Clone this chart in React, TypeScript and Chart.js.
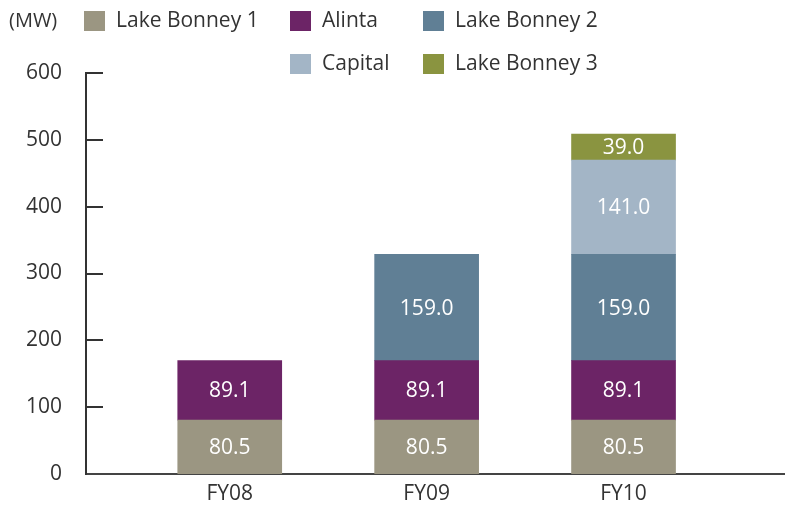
import React, { useEffect, useRef } from 'react';
import { Chart, registerables } from 'chart.js';

Chart.register(...registerables);

const categories = ['FY08', 'FY09', 'FY10'];
const seriesNames = ['Lake Bonney 1', 'Alinta', 'Lake Bonney 2', 'Capital', 'Lake Bonney 3'];
const lakeBonney1 = [80.5, 80.5, 80.5];
const alinta = [89.1, 89.1, 89.1];
const lakeBonney2 = [null, 159.0, 159.0];
const capital = [null, null, 141.0];
const lakeBonney3 = [null, null, 39.0];
const yTickValues = [0, 100, 200, 300, 400, 500, 600];
const unitLabel = '(MW)';

const seriesValues = [lakeBonney1, alinta, lakeBonney2, capital, lakeBonney3];
const seriesColors = ['#9b9682', '#6c2466', '#607f95', '#a3b5c6', '#8a9440'];

const FONT = '"Open Sans", sans-serif';
const TEXT = '#333333';

// legend layout: [boxX, rowCenterY]
const legendSlots = [
  [84, 21],
  [290, 21],
  [423, 21],
  [290, 64],
  [423, 64],
];

const legendPlugin = {
  id: 'customLegend',
  afterDraw(chart: any) {
    const ctx = chart.ctx;
    ctx.save();
    ctx.font = `20px ${FONT}`;
    ctx.fillStyle = TEXT;
    ctx.textBaseline = 'middle';
    ctx.textAlign = 'left';
    ctx.fillText(unitLabel, 9, 21);
    chart.data.datasets.forEach((ds: any, i: number) => {
      const [bx, cy] = legendSlots[i];
      ctx.fillStyle = ds.backgroundColor;
      ctx.fillRect(bx, cy - 10, 21, 20);
      ctx.fillStyle = TEXT;
      ctx.font = `21px ${FONT}`;
      ctx.fillText(ds.label, bx + 32, cy);
    });
    ctx.restore();
  },
};

const valueLabelPlugin = {
  id: 'valueLabels',
  afterDatasetsDraw(chart: any) {
    const ctx = chart.ctx;
    ctx.save();
    ctx.fillStyle = '#ffffff';
    ctx.font = `21px ${FONT}`;
    ctx.textAlign = 'center';
    ctx.textBaseline = 'middle';
    chart.data.datasets.forEach((ds: any, di: number) => {
      const meta = chart.getDatasetMeta(di);
      meta.data.forEach((bar: any, i: number) => {
        const pt = ds.data[i];
        if (!pt || pt.y == null) return;
        const { x, y, base } = bar.getProps(['x', 'y', 'base'], true);
        ctx.fillText(pt.y.toFixed(1), x, (y + base) / 2 + 1);
      });
    });
    ctx.restore();
  },
};

const innerTicksPlugin = {
  id: 'innerTicks',
  afterDraw(chart: any) {
    const ctx = chart.ctx;
    const ys = chart.scales.y;
    const left = chart.chartArea.left;
    ctx.save();
    ctx.strokeStyle = TEXT;
    ctx.lineWidth = 2;
    ys.ticks.forEach((t: any) => {
      if (t.value === 0) return;
      const py = Math.round(ys.getPixelForValue(t.value));
      ctx.beginPath();
      ctx.moveTo(left, py);
      ctx.lineTo(left + 17, py);
      ctx.stroke();
    });
    ctx.restore();
  },
};

export default function App() {
  const canvasRef = useRef<HTMLCanvasElement | null>(null);

  useEffect(() => {
    if (!canvasRef.current) return;
    const datasets = seriesNames.map((name, si) => ({
      label: name,
      data: seriesValues[si]
        .map((v, i) => (v == null ? null : { x: i, y: v }))
        .filter((p) => p !== null),
      backgroundColor: seriesColors[si],
      borderWidth: 0,
      barThickness: 104,
    }));

    const chart = new Chart(canvasRef.current, {
      type: 'bar',
      data: { datasets },
      plugins: [legendPlugin, valueLabelPlugin, innerTicksPlugin],
      options: {
        animation: false,
        responsive: true,
        maintainAspectRatio: false,
        layout: { padding: { top: 73, left: 0, right: 0, bottom: 0 } },
        plugins: {
          legend: { display: false },
          tooltip: { enabled: false },
        },
        scales: {
          x: {
            type: 'linear',
            stacked: true,
            offset: false,
            min: -0.73,
            max: 2.82,
            afterBuildTicks: (scale: any) => {
              scale.ticks = categories.map((_, i) => ({ value: i }));
            },
            afterFit: (scale: any) => {
              scale.height = 32;
            },
            grid: { display: false, drawTicks: false },
            border: { display: true, color: '#444444', width: 2 },
            ticks: {
              padding: 7,
              color: TEXT,
              font: { family: FONT, size: 21 },
              callback: (v: any) => categories[v] ?? '',
            },
          },
          y: {
            stacked: true,
            min: 0,
            max: 600,
            afterBuildTicks: (scale: any) => {
              scale.ticks = yTickValues.map((v) => ({ value: v }));
            },
            afterFit: (scale: any) => {
              scale.width = 86;
            },
            grid: { display: false, drawTicks: true, tickLength: 16 },
            border: { display: true, color: TEXT, width: 2 },
            ticks: {
              padding: 8,
              color: TEXT,
              font: { family: FONT, size: 21 },
            },
          },
        },
      },
    });
    return () => chart.destroy();
  }, []);

  return (
    <div style={{ position: 'absolute', left: 0, top: 0, width: 785, height: 506, background: '#ffffff' }}>
      <canvas ref={canvasRef} />
    </div>
  );
}
